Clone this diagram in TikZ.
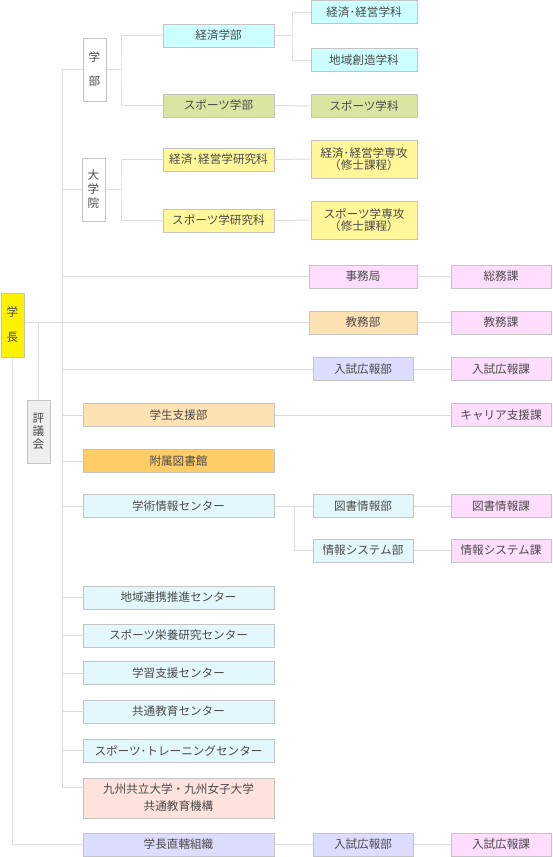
\documentclass[tikz,border=0pt]{standalone}
\usepackage{fontspec}
\setmainfont{Noto Sans CJK JP}
\definecolor{linegray}{HTML}{DDDDDD}
\definecolor{boxgray}{HTML}{C4C4C4}
\definecolor{txtgray}{HTML}{4A4A4A}
\definecolor{cyanbox}{HTML}{CCFFFF}
\definecolor{greenbox}{HTML}{D9E5A1}
\definecolor{yellowbox}{HTML}{FFF799}
\definecolor{pinkbox}{HTML}{FFDDFF}
\definecolor{beigebox}{HTML}{FFE2B3}
\definecolor{lilacbox}{HTML}{DDDDFF}
\definecolor{orangebox}{HTML}{FFCC66}
\definecolor{icebox}{HTML}{E3F8FC}
\definecolor{salmonbox}{HTML}{FDE3DC}
\definecolor{greybox}{HTML}{EFEFEF}
\begin{document}
\begin{tikzpicture}[x=1pt,y=-1pt,font=\fontsize{11.6}{14}\selectfont,
  box/.style={draw=boxgray,line width=1pt,text=txtgray,inner sep=0pt,minimum height=23pt,align=center},
  conn/.style={draw=linegray,line width=1pt}]
\useasboundingbox (0,0) rectangle (552,857);
\node[box,fill=yellow,minimum width=23pt,minimum height=64pt] (cho) at (12.5,325) {学\\[11pt]長};
\node[box,fill=greybox,minimum width=23pt,minimum height=63pt] (hyogi) at (38.5,431.5) {評\\[-1pt]議\\[-1pt]会};
\node[box,fill=white,minimum width=23pt,minimum height=63pt] (gakubu) at (94.5,69.5) {学\\[10pt]部};
\node[box,fill=white,minimum width=23pt,minimum height=63pt] (daigakuin) at (93.5,189.5) {大\\学\\院};
\foreach \n/\y/\c/\t in {keizaigakubu/35.5/cyanbox/経済学部,sportsgakubu/105.5/greenbox/スポーツ学部,
  keizaiken/159.5/yellowbox/経済･経営学研究科,sportsken/220.5/yellowbox/スポーツ学研究科}
  \node[box,fill=\c,minimum width=111pt] (\n) at (218.5,\y) {\t};
\foreach \n/\y/\c/\t in {keizaika/12/cyanbox/経済･経営学科,chiikika/60/cyanbox/地域創造学科,sportska/106/greenbox/スポーツ学科}
  \node[box,fill=\c,minimum width=106pt] (\n) at (364,\y) {\t};
\node[box,fill=yellowbox,minimum width=106pt,minimum height=38pt] (keizaisenko) at (364,159) {経済･経営学専攻\\[-1.5pt]（修士課程）};
\node[box,fill=yellowbox,minimum width=106pt,minimum height=38pt] (sportssenko) at (364,220) {スポーツ学専攻\\[-1.5pt]（修士課程）};
\node[box,fill=pinkbox,minimum width=108pt] (jimukyoku) at (363,276.5) {事務局};
\node[box,fill=beigebox,minimum width=108pt] (kyomubu) at (363,322.5) {教務部};
\foreach \n/\y/\c/\t in {nyushibu/369/lilacbox/入試広報部,toshobu/506/icebox/図書情報部,
  johobu/550.5/icebox/情報システム部,nyushibu2/844.5/lilacbox/入試広報部}
  \node[box,fill=\c,minimum width=100pt] (\n) at (363,\y) {\t};
\foreach \n/\y/\t in {somuka/276.5/総務課,kyomuka/322.5/教務課,nyushika/369/入試広報課,career/415/キャリア支援課,
  toshoka/506/図書情報課,johoka/550.5/情報システム課,nyushika2/844.5/入試広報課}
  \node[box,fill=pinkbox,minimum width=100pt] (\n) at (501,\y) {\t};
\foreach \n/\y/\c/\t in {gakusei/415/beigebox/学生支援部,tosyokan/461/orangebox/附属図書館,
  gakujutsu/506/icebox/学術情報センター,renkei/597.5/icebox/地域連携推進センター,
  eiyo/635.5/icebox/スポーツ栄養研究センター,gakushu/673/icebox/学習支援センター,
  kyotsu/711.5/icebox/共通教育センター,training/750.5/icebox/スポーツ･トレーニングセンター,
  chokkatsu/844.5/lilacbox/学長直轄組織}
  \node[box,fill=\c,minimum width=191pt] (\n) at (178.5,\y) {\t};
\node[box,fill=salmonbox,minimum width=191pt,minimum height=40pt] (kikou) at (178.5,798) {九州共立大学・九州女子大学\\[3pt]共通教育機構};
\coordinate (top) at (62,69.5);
\coordinate (bot) at (62,787);
\coordinate (jgakubu) at (121,69.5);
\coordinate (jdaigakuin) at (121,189.5);
\coordinate (jkeizai) at (292,35.5);
\coordinate (jjoho) at (294,506);
\draw[conn] (top) -- (bot) -- (bot -| kikou.west);
\foreach \n in {gakubu,daigakuin,jimukyoku,nyushibu,gakusei,tosyokan,gakujutsu,renkei,eiyo,gakushu,kyotsu,training}
  \draw[conn] (top |- \n) -- (\n.west);
\draw[conn] (cho.east |- kyomubu) -- (kyomubu.west);
\draw[conn] (hyogi.north) -- (hyogi.north |- kyomubu);
\draw[conn] (cho.south) |- (chokkatsu.west);
\draw[conn] (gakubu.east) -- (jgakubu);
\draw[conn] (keizaigakubu.west) -| (jgakubu) |- (sportsgakubu.west);
\draw[conn] (daigakuin.east) -- (jdaigakuin);
\draw[conn] (keizaiken.west) -| (jdaigakuin) |- (sportsken.west);
\draw[conn] (keizaigakubu.east) -- (jkeizai);
\draw[conn] (keizaika.west) -| (jkeizai) |- (chiikika.west);
\draw[conn] (gakujutsu.east) -- (toshobu.west);
\draw[conn] (jjoho) |- (johobu.west);
\foreach \a/\b in {sportsgakubu/sportska,keizaiken/keizaisenko,sportsken/sportssenko,jimukyoku/somuka,
  kyomubu/kyomuka,nyushibu/nyushika,gakusei/career,toshobu/toshoka,johobu/johoka,
  chokkatsu/nyushibu2,nyushibu2/nyushika2}
  \draw[conn] (\a.east) -- (\b.west);
\end{tikzpicture}
\end{document}
